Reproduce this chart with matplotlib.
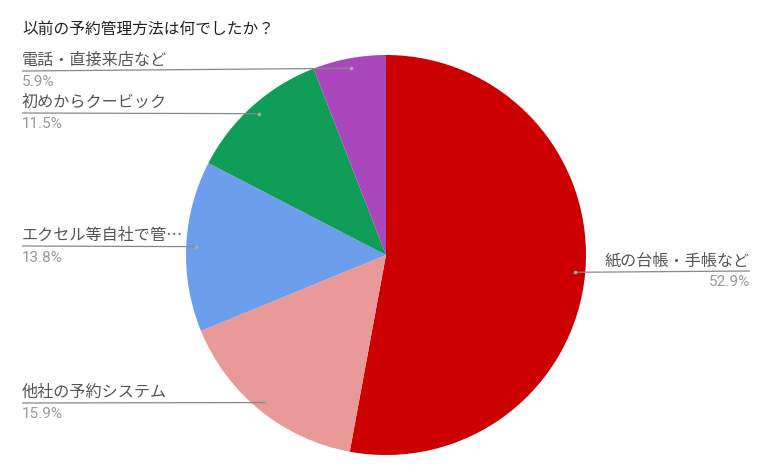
import numpy as np
import matplotlib
matplotlib.use("Agg")
import matplotlib.pyplot as plt

plt.rcParams["font.family"] = ["Noto Sans CJK JP", "DejaVu Sans"]

title = "以前の予約管理方法は何でしたか？"
labels = ["紙の台帳・手帳など", "他社の予約システム", "エクセル等自社で管…",
          "初めからクービック", "電話・直接来店など"]
values = [52.9, 15.9, 13.8, 11.5, 5.9]
colors = ["#cc0000", "#ea9999", "#6d9eeb", "#0f9d58", "#ab47bc"]

# label layout (pixel coords, y down): underline y, side
label_y = [272, 404, 247, 114, 72]
label_side = ["right", "left", "left", "left", "left"]

W, H = 773, 477
cx, cy, R = 386, 256, 200

fig = plt.figure(figsize=(W / 100, H / 100), dpi=100)
ax = fig.add_axes([0, 0, 1, 1])

wedges, _ = ax.pie(values, colors=colors, startangle=90, counterclock=False,
                   center=(cx, H - cy), radius=R,
                   wedgeprops=dict(linewidth=0))
ax.set_xlim(0, W)
ax.set_ylim(0, H)
ax.set_aspect("equal")
ax.axis("off")

ax.text(22, H - 29, title, fontsize=11.3, color="#222222", va="center", ha="left")

for w, lab, val, ly, side in zip(wedges, labels, values, label_y, label_side):
    mid = np.deg2rad((w.theta1 + w.theta2) / 2)
    dx = cx + 0.95 * R * np.cos(mid)
    dy = (H - cy) + 0.95 * R * np.sin(mid)
    y = H - ly
    if side == "left":
        x0, ha = 22, "left"
    else:
        x0, ha = 750, "right"
    ax.plot([x0, dx], [y, dy], color="#888888", lw=0.9, solid_capstyle="butt")
    ax.plot(dx, dy, "o", ms=2.6, color="#aaaaaa", mec="none")
    ax.text(x0, y + 3, lab, fontsize=11.6, color="#555555", ha=ha, va="bottom")
    ax.text(x0, y - 3.5, f"{val}%", fontsize=11, color="#999999", ha=ha, va="top",
            family=["Roboto", "DejaVu Sans"])

fig.savefig("out.png", dpi=100)
